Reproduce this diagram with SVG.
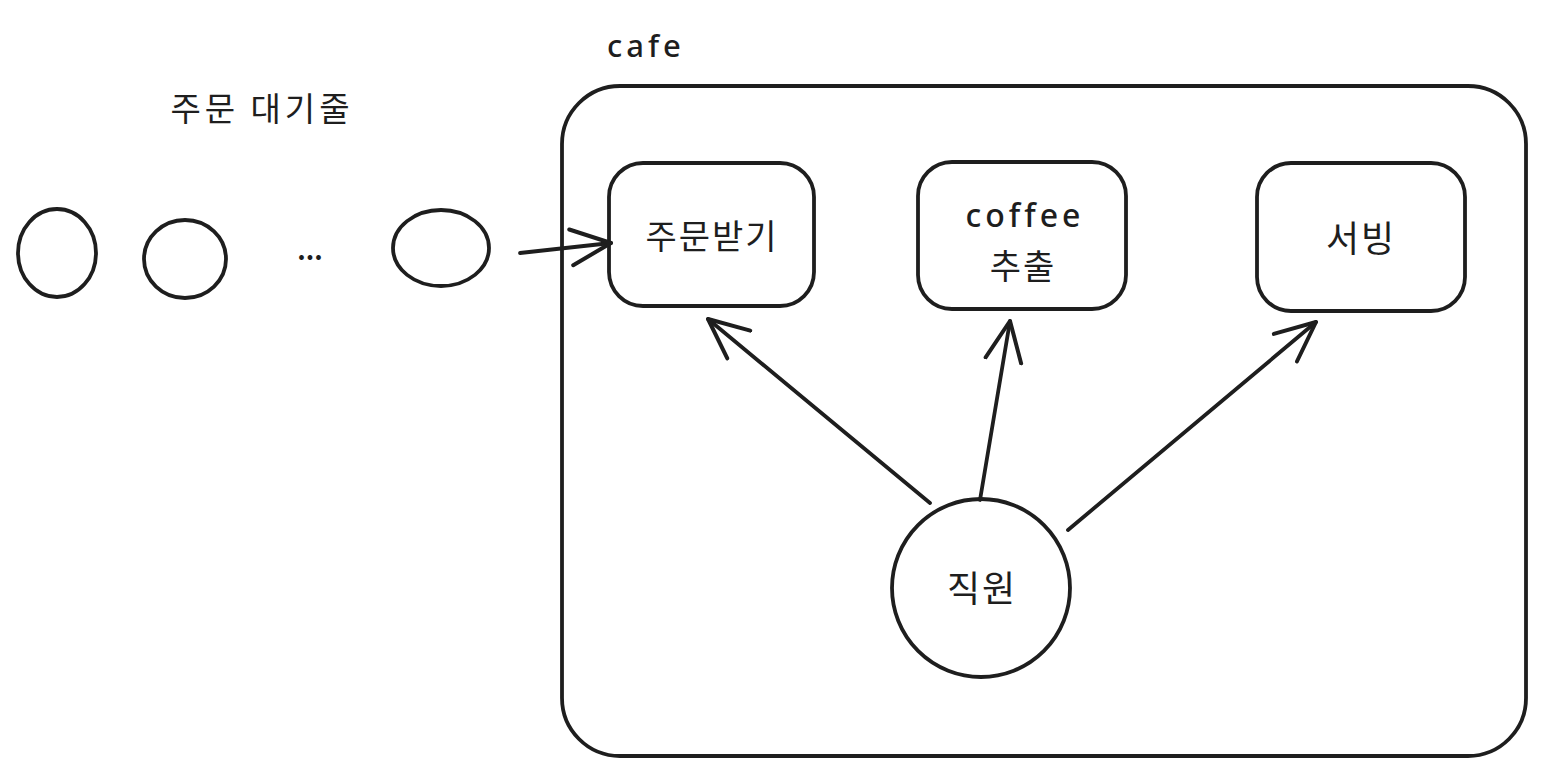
<svg xmlns="http://www.w3.org/2000/svg" width="1543" height="776" viewBox="0 0 1543 776">
<style>
.s{fill:none;stroke:#1e1e1e;stroke-width:3.8;stroke-linecap:round;stroke-linejoin:round}
.t{font-family:"Noto Sans CJK KR","Noto Sans",sans-serif;fill:#1e1e1e;text-anchor:middle}
.v{font-family:"Noto Sans","Noto Sans CJK KR",sans-serif;font-weight:500;letter-spacing:4px}
</style>
<defs>
<marker id="ah" markerWidth="46" markerHeight="42" refX="40" refY="18" orient="auto" markerUnits="userSpaceOnUse" viewBox="-2 -2 46 40">
<polyline points="0,0 40,18 0,36" fill="none" stroke="#1e1e1e" stroke-width="4" stroke-linecap="round" stroke-linejoin="round"/>
</marker>
</defs>
<rect width="1543" height="776" fill="#ffffff"/>
<text class="t" x="262" y="121" font-size="33" letter-spacing="4">주문 대기줄</text>
<text class="t v" x="646" y="57" font-size="31">cafe</text>
<g id="cafe"><rect class="s" x="562" y="86" width="964" height="670" rx="58"/></g>
<g id="queue1"><ellipse class="s" cx="57" cy="253" rx="39" ry="44"/></g>
<g id="queue2"><ellipse class="s" cx="185" cy="259" rx="41" ry="39"/></g>
<g id="dots"><text class="t" x="310" y="260" font-size="26" font-weight="bold">...</text></g>
<g id="queue3"><ellipse class="s" cx="441" cy="248" rx="48" ry="38"/></g>
<g id="order"><rect class="s" x="609" y="163" width="205" height="143" rx="34"/><text class="t" x="712" y="249" font-size="34" letter-spacing="2">주문받기</text></g>
<g id="coffee"><rect class="s" x="918" y="162" width="208" height="147" rx="34"/><text class="t v" x="1025" y="227" font-size="32">coffee</text><text class="t" x="1023" y="279" font-size="34" letter-spacing="2">추출</text></g>
<g id="serving"><rect class="s" x="1257" y="163" width="208" height="148" rx="34"/><text class="t" x="1361" y="252" font-size="36" letter-spacing="2">서빙</text></g>
<g id="staff"><circle class="s" cx="981" cy="588" r="89"/><text class="t" x="982" y="602" font-size="36" letter-spacing="2">직원</text></g>
<g id="connectors">
<line class="s" x1="520" y1="253" x2="611" y2="243" marker-end="url(#ah)"/>
<line class="s" x1="930" y1="503" x2="708" y2="319" marker-end="url(#ah)"/>
<line class="s" x1="980" y1="500" x2="1010" y2="321" marker-end="url(#ah)"/>
<line class="s" x1="1068" y1="530" x2="1316" y2="322" marker-end="url(#ah)"/>
</g>
</svg>
